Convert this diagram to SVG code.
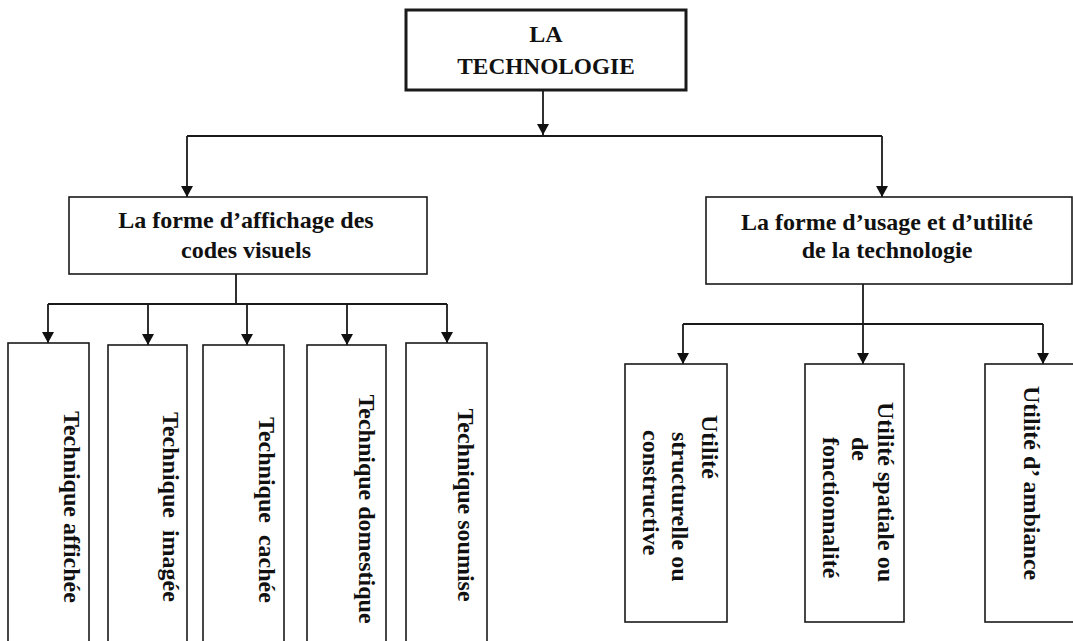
<svg xmlns="http://www.w3.org/2000/svg" width="1073" height="641" viewBox="0 0 1073 641">
<style>
  .box { fill: #ffffff; stroke: #1a1a1a; stroke-width: 1.6; }
  .top { stroke-width: 3; }
  .t { font-family: "Liberation Serif", "Times New Roman", serif; font-weight: bold; font-size: 24px; fill: #111111; white-space: pre; }
  .c { text-anchor: middle; }
  .conn { fill: none; stroke: #1a1a1a; stroke-width: 1.8; }
  .arr { marker-end: url(#ah); }
</style>
<defs>
  <marker id="ah" markerUnits="userSpaceOnUse" markerWidth="11" markerHeight="12" viewBox="0 0 11 12" refX="11" refY="6" orient="auto">
    <path d="M0,0 L11,6 L0,12 Z" fill="#111111"/>
  </marker>
</defs>
<rect width="1073" height="641" fill="#ffffff"/>

<g id="connectors">
  <path class="conn arr" d="M543,90 V135"/>
  <path class="conn" d="M187,136 H882"/>
  <path class="conn arr" d="M187,136 V197"/>
  <path class="conn arr" d="M882,136 V197"/>
  <path class="conn" d="M236,274 V304 M48,304 H447"/>
  <path class="conn arr" d="M48,304 V343"/>
  <path class="conn arr" d="M148,304 V345"/>
  <path class="conn arr" d="M247,304 V345"/>
  <path class="conn arr" d="M347,304 V345"/>
  <path class="conn arr" d="M447,304 V343"/>
  <path class="conn arr" d="M863,284 V364"/>
  <path class="conn" d="M683,324 H1043"/>
  <path class="conn arr" d="M683,324 V364"/>
  <path class="conn arr" d="M1043,324 V364"/>
</g>

<g id="n-technologie">
  <rect class="box top" x="406" y="10" width="280" height="80"/>
  <text class="t c" x="546" y="42">LA</text>
  <text class="t c" x="546" y="74" style="font-size:23.3px">TECHNOLOGIE</text>
</g>

<g id="n-affichage">
  <rect class="box" x="69" y="197" width="358" height="77"/>
  <text class="t c" x="246" y="228">La forme d’affichage des</text>
  <text class="t c" x="246" y="258">codes visuels</text>
</g>

<g id="n-usage">
  <rect class="box" x="706" y="197" width="366" height="87"/>
  <text class="t c" x="887" y="230">La forme d’usage et d’utilité</text>
  <text class="t c" x="887" y="258">de la technologie</text>
</g>

<g id="n-affichee">
  <rect class="box" x="8" y="343" width="81" height="320"/>
  <text class="t c" transform="translate(64,507) rotate(90)">Technique affichée</text>
</g>
<g id="n-imagee">
  <rect class="box" x="108" y="345" width="79" height="320"/>
  <text class="t c" xml:space="preserve" transform="translate(163,507) rotate(90)">Technique  imagée</text>
</g>
<g id="n-cachee">
  <rect class="box" x="203" y="345" width="81" height="320"/>
  <text class="t c" xml:space="preserve" transform="translate(259,510) rotate(90)">Technique  cachée</text>
</g>
<g id="n-domestique">
  <rect class="box" x="307" y="345" width="79" height="320"/>
  <text class="t c" transform="translate(359,509) rotate(90)">Technique domestique</text>
</g>
<g id="n-soumise">
  <rect class="box" x="406" y="343" width="81" height="320"/>
  <text class="t c" transform="translate(458,505) rotate(90)">Technique soumise</text>
</g>

<g id="n-structurelle">
  <rect class="box" x="625" y="364" width="102" height="258"/>
  <text class="t" transform="translate(702,415) rotate(90)">Utilité</text>
  <text class="t" transform="translate(672,432) rotate(90)">structurelle ou</text>
  <text class="t" transform="translate(643,430) rotate(90)">constructive</text>
</g>
<g id="n-spatiale">
  <rect class="box" x="805" y="364" width="99" height="258"/>
  <text class="t" transform="translate(878,402) rotate(90)">Utilité spatiale ou</text>
  <text class="t" transform="translate(852,437) rotate(90)">de</text>
  <text class="t" transform="translate(823,437) rotate(90)">fonctionnalité</text>
</g>
<g id="n-ambiance">
  <rect class="box" x="985" y="364" width="110" height="258"/>
  <text class="t" transform="translate(1024,386) rotate(90)">Utilité d’ ambiance</text>
</g>
</svg>
